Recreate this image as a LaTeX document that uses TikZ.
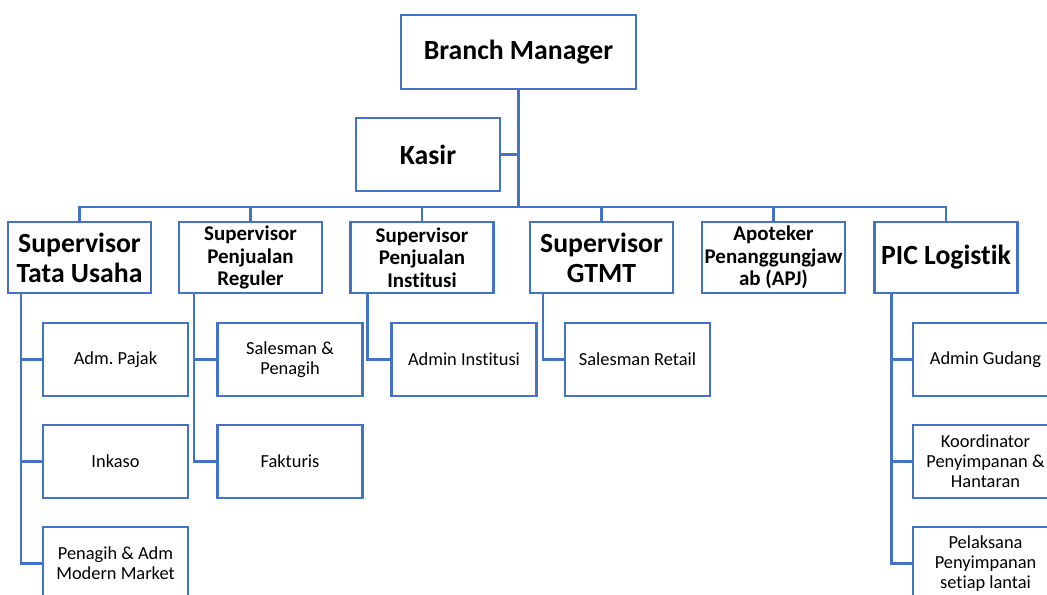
\documentclass[tikz,border=0pt]{standalone}
\usepackage{fontspec}
\setmainfont{Carlito}[Ligatures=NoCommon]
\usepackage{tikz}
\usetikzlibrary{positioning}
\usetikzlibrary{calc}
\usepackage{xcolor}
\definecolor{boxblue}{HTML}{4472C4}
\frenchspacing

\tikzset{
  unit/.style={draw=boxblue, line width=1.8pt, fill=white, align=center, inner sep=1pt},
  chief/.style={unit, minimum width=176.25pt, minimum height=55.5pt, font=\bfseries\fontsize{20.8pt}{22.5pt}\selectfont},
  headbig/.style={unit, minimum width=107.25pt, minimum height=53.25pt, font=\bfseries\fontsize{20.8pt}{22.5pt}\selectfont},
  headsmall/.style={unit, minimum width=107.25pt, minimum height=53.25pt, font=\bfseries\fontsize{15.7pt}{17pt}\selectfont},
  staff/.style={unit, minimum width=108.75pt, minimum height=54.75pt, font=\fontsize{13.8pt}{15pt}\selectfont},
  link/.style={draw=boxblue, line width=1.8pt}
}

\begin{document}
\begin{tikzpicture}[x=0.75pt, y=-0.75pt]
       \useasboundingbox (0,0) rectangle (1047,595);
       \clip (0,0) rectangle (1047,595);

       \node[chief] (bm) at (518.5, 52) {Branch Manager};
       \node[headbig, minimum width=108pt, minimum height=54.75pt] (kasir) at (428, 154.5) {Kasir};

       \node[headbig]   (stu)  at ( 79.5, 257.5) {Supervisor\\Tata Usaha};
       \node[headsmall] (spr)  at (250.5, 257.5) {Supervisor\\Penjualan\\Reguler};
       \node[headsmall] (spi)  at (422,   257.5) {Supervisor\\Penjualan\\Institusi};
       \node[headbig]   (gtmt) at (601.5, 257.5) {Supervisor\\GTMT};
       \node[headsmall] (apj)  at (773.5, 257.5) {Apoteker\\Penanggungjaw\\ab (APJ)};
       \node[headbig]   (pic)  at (946,   257.5) {PIC Logistik};

       \node[staff] (pajak)   at (115.5, 359.5) {Adm. Pajak};
       \node[staff] (inkaso)  at (115.5, 461.5) {Inkaso};
       \node[staff] (penagih) at (115.5, 563.5) {Penagih \& Adm\\Modern Market};

       \node[staff] (sales)   at (290, 359.5) {Salesman \&\\Penagih};
       \node[staff] (faktur)  at (290, 461.5) {Fakturis};

       \node[staff] (admin)   at (464, 359.5) {Admin Institusi};
       \node[staff] (retail)  at (637.5, 359.5) {Salesman Retail};

       \node[staff] (gudang)  at (985.5, 359.5) {Admin Gudang};
       \node[staff] (koord)   at (985.5, 461.5) {Koordinator\\Penyimpanan \&\\Hantaran};
       \node[staff] (lantai)  at (985.5, 563.5) {Pelaksana\\Penyimpanan\\setiap lantai};

       % top of the tree
       \coordinate (bus) at (518.5, 207);
       \draw[link] (bm.south) -- (bus);
       \draw[link] (kasir.east) -- (kasir.east -| bus);
       \draw[link] (stu.north) |- (bus) -| (pic.north);
       \foreach \n in {spr, spi, gtmt, apj}
              \draw[link] (\n.north) -- (\n.north |- bus);

       % staff under each supervisor
       \foreach \k in {pajak, inkaso, penagih}
              \draw[link] ($(stu.south west)+(14,0)$) |- (\k.west);
       \foreach \k in {sales, faktur}
              \draw[link] ($(spr.south west)+(16,0)$) |- (\k.west);
       \draw[link] ($(spi.south west)+(18,0)$) |- (admin.west);
       \draw[link] ($(gtmt.south west)+(14,0)$) |- (retail.west);
       \foreach \k in {gudang, koord, lantai}
              \draw[link] ($(pic.south west)+(18,0)$) |- (\k.west);
    \end{tikzpicture}
\end{document}
